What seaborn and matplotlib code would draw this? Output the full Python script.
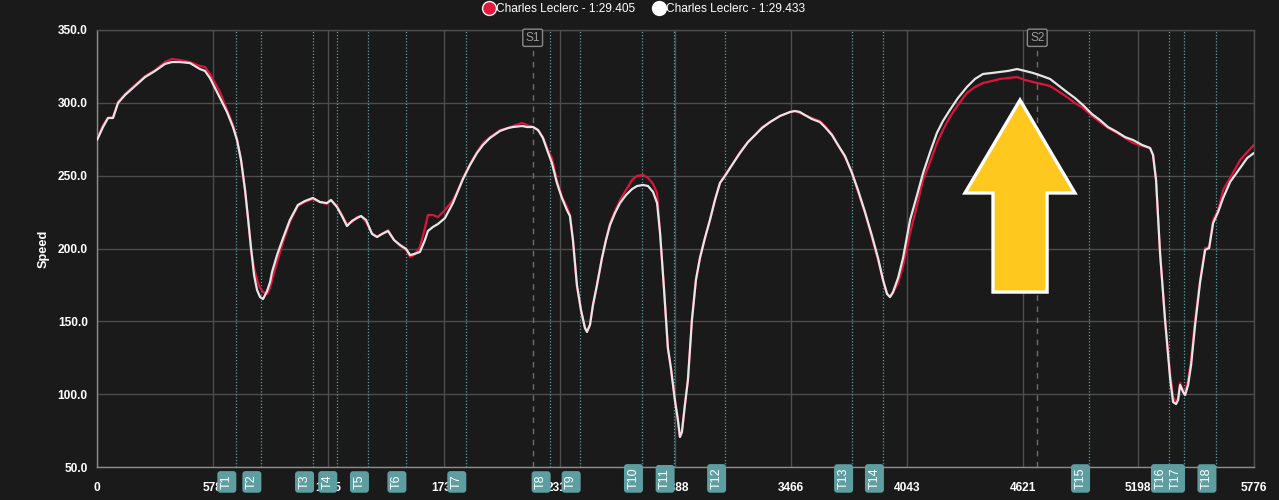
import matplotlib
matplotlib.use("Agg")
import matplotlib.pyplot as plt
import seaborn as sns
import pandas as pd
from matplotlib.lines import Line2D
from matplotlib.patches import Polygon

# ---------------- data ----------------
distance = [0, 30, 55, 80, 105, 140, 190, 240, 290, 339,
            374, 414, 464, 514, 539, 564, 589, 614, 649, 679,
            699, 719, 739, 754, 769, 784, 799, 814, 829, 849,
            864, 874, 899, 929, 963, 1003, 1038, 1078, 1113, 1148,
            1168, 1198, 1223, 1248, 1273, 1298, 1318, 1343, 1373, 1398,
            1423, 1453, 1483, 1513, 1543, 1563, 1583, 1612, 1637, 1652,
            1677, 1702, 1737, 1777, 1802, 1827, 1862, 1897, 1927, 1962,
            2012, 2052, 2077, 2122, 2147, 2177, 2202, 2226, 2251, 2271,
            2296, 2321, 2346, 2361, 2376, 2396, 2416, 2436, 2446, 2461,
            2476, 2496, 2521, 2541, 2561, 2586, 2611, 2641, 2671, 2696,
            2726, 2751, 2776, 2796, 2811, 2831, 2850, 2865, 2885, 2900,
            2910, 2920, 2935, 2950, 2970, 2990, 3010, 3035, 3060, 3085,
            3110, 3135, 3170, 3210, 3250, 3285, 3320, 3360, 3410, 3460,
            3484, 3509, 3534, 3569, 3609, 3634, 3669, 3699, 3734, 3769,
            3799, 3834, 3869, 3899, 3924, 3944, 3959, 3974, 3999, 4024,
            4059, 4094, 4124, 4159, 4193, 4223, 4258, 4298, 4343, 4383,
            4423, 4468, 4508, 4548, 4593, 4633, 4673, 4718, 4758, 4797,
            4842, 4882, 4922, 4967, 5007, 5047, 5092, 5132, 5172, 5217,
            5257, 5272, 5287, 5307, 5332, 5357, 5372, 5387, 5397, 5407,
            5422, 5432, 5447, 5462, 5482, 5507, 5532, 5552, 5572, 5597,
            5622, 5657, 5707, 5742, 5776]

speed_lap_405 = [274.5, 284.8, 289.6, 290.3, 300.6, 306.1, 312.2, 318.4, 322.5, 328.0,
                 330.1, 329.4, 328.0, 325.3, 324.6, 319.8, 313.6, 307.4, 295.1, 284.8,
                 274.5, 260.8, 240.2, 219.6, 199.0, 186.6, 178.4, 172.9, 170.1, 168.8,
                 172.9, 178.4, 190.7, 204.5, 218.2, 229.2, 231.9, 234.0, 231.9, 230.5,
                 233.3, 229.2, 223.0, 216.8, 218.2, 221.6, 222.3, 218.2, 210.6, 207.9,
                 210.0, 212.7, 205.8, 201.7, 199.0, 194.2, 195.5, 201.0, 214.1, 223.0,
                 223.0, 221.6, 226.4, 233.3, 240.2, 248.4, 258.0, 266.2, 272.4, 276.5,
                 281.3, 282.7, 284.1, 286.2, 284.8, 283.4, 281.3, 276.5, 267.6, 262.1,
                 247.0, 235.4, 228.5, 223.0, 205.8, 173.6, 157.8, 145.4, 143.4, 147.5,
                 161.2, 174.9, 193.5, 205.8, 217.5, 225.7, 233.3, 240.2, 247.0, 249.8,
                 250.5, 248.4, 244.3, 238.1, 210.6, 171.5, 131.7, 118.0, 96.0, 82.3,
                 70.6, 74.0, 92.6, 109.7, 150.9, 178.4, 193.5, 207.2, 219.6, 233.3,
                 245.0, 250.5, 257.3, 266.2, 273.1, 277.9, 283.4, 286.8, 291.0, 293.7,
                 294.4, 293.0, 291.6, 289.6, 287.5, 284.1, 278.6, 271.1, 262.8, 252.5,
                 238.8, 224.4, 207.2, 192.1, 178.4, 169.5, 166.7, 169.5, 176.3, 188.0,
                 210.6, 229.9, 247.0, 259.4, 272.4, 281.3, 290.3, 298.5, 306.8, 310.9,
                 313.6, 315.0, 316.4, 317.0, 317.7, 315.7, 314.3, 312.9, 311.6, 308.1,
                 304.0, 299.9, 296.5, 291.0, 286.8, 282.7, 279.3, 275.9, 272.4, 270.4,
                 269.0, 264.2, 247.0, 196.9, 150.9, 114.5, 98.1, 94.6, 97.4, 107.7,
                 102.9, 100.8, 109.7, 123.5, 150.9, 178.4, 200.3, 201.0, 219.6, 226.4,
                 240.2, 248.4, 260.8, 266.2, 271.1]

speed_lap_433 = [274.5, 283.4, 289.6, 289.6, 299.9, 305.4, 311.6, 317.7, 321.9, 326.7,
                 328.0, 328.0, 327.3, 323.2, 321.9, 317.0, 310.2, 303.3, 293.7, 283.4,
                 274.5, 260.8, 240.2, 220.9, 200.3, 181.8, 171.5, 166.7, 165.3, 170.8,
                 177.0, 183.9, 195.5, 207.2, 219.6, 229.9, 232.6, 234.7, 231.9, 231.2,
                 233.3, 228.5, 222.3, 215.4, 218.9, 220.9, 222.3, 219.6, 210.0, 207.9,
                 210.0, 212.0, 205.8, 202.4, 199.7, 195.5, 196.2, 197.6, 205.8, 212.0,
                 214.8, 216.8, 220.9, 231.2, 239.5, 247.7, 257.3, 265.6, 271.1, 275.9,
                 280.7, 282.7, 283.4, 284.1, 283.4, 283.4, 281.3, 275.9, 266.2, 258.7,
                 245.0, 234.7, 226.4, 222.3, 205.8, 174.9, 157.8, 145.4, 142.7, 147.5,
                 161.2, 174.9, 193.5, 205.8, 216.1, 224.4, 231.2, 236.7, 240.8, 242.9,
                 243.6, 242.9, 238.8, 231.2, 210.6, 171.5, 131.7, 118.0, 96.0, 82.3,
                 70.6, 74.0, 92.6, 109.7, 150.9, 178.4, 193.5, 207.2, 219.6, 233.3,
                 245.0, 249.8, 257.3, 265.6, 273.1, 277.9, 282.7, 286.8, 291.0, 293.7,
                 294.4, 293.7, 291.6, 288.9, 286.8, 283.4, 277.9, 271.1, 263.5, 251.8,
                 240.2, 225.1, 208.6, 193.5, 178.4, 168.8, 166.7, 170.1, 179.7, 193.5,
                 219.6, 236.7, 251.8, 266.2, 279.3, 287.5, 295.1, 303.3, 310.9, 316.4,
                 319.8, 320.5, 321.2, 321.9, 323.2, 321.9, 320.5, 318.4, 316.4, 312.2,
                 307.4, 303.3, 298.5, 292.3, 288.2, 283.4, 280.0, 276.5, 274.5, 271.1,
                 269.0, 264.2, 247.0, 196.9, 150.9, 111.1, 94.6, 93.2, 96.0, 106.3,
                 101.5, 99.4, 106.3, 120.0, 147.5, 177.0, 199.0, 200.3, 217.5, 225.1,
                 234.7, 245.7, 255.3, 262.1, 265.6]

lap_labels = ["Charles Leclerc - 1:29.405", "Charles Leclerc - 1:29.433"]
line_colors = ["#dc143c", "#e6e6e6"]

x_ticks = [0, 578, 1155, 1733, 2311, 2888, 3466, 4043, 4621, 5198, 5776]
y_ticks = [50, 100, 150, 200, 250, 300, 350]

turn_names = ["T1", "T2", "T3", "T4", "T5", "T6", "T7", "T8", "T9", "T10",
              "T11", "T12", "T13", "T14", "T15", "T16", "T17", "T18"]
turn_dist = [692, 817, 1080, 1196, 1354, 1541, 1840, 2261, 2411, 2722,
             2880, 3137, 3771, 3925, 4954, 5353, 5428, 5585]

sector_names = ["S1", "S2"]
sector_dist = [2175, 4694]

# highlight arrow (annotation) in data units
arrow_tip = (4608, 301.9)
arrow_head_base = 238.1
arrow_head_half = (4333, 4882)
arrow_body = (4473, 4743)
arrow_bottom = 170.1

# ---------------- style ----------------
BG = "#1a1a1a"
GRID = "#4d4d4d"
TEAL = "#5f9ea0"

sns.set_theme(style="dark")
plt.rcParams['font.family'] = ['Liberation Sans', 'DejaVu Sans']

df = pd.DataFrame({
    "Distance": distance * 2,
    "Speed": speed_lap_405 + speed_lap_433,
    "Lap": [lap_labels[0]] * len(distance) + [lap_labels[1]] * len(distance),
})

fig = plt.figure(figsize=(12.79, 5.0), dpi=100, facecolor=BG)
ax = fig.add_axes([0.07584, 0.066, 0.90461, 0.874])
ax.set_facecolor(BG)

sns.lineplot(data=df, x="Distance", y="Speed", hue="Lap", hue_order=lap_labels,
             palette=line_colors, estimator=None, sort=False, linewidth=1.6,
             legend=False, ax=ax, zorder=5)

ax.set_xlim(0, 5776)
ax.set_ylim(50, 350)
ax.set_xticks(x_ticks)
ax.set_xticklabels([str(t) for t in x_ticks])
ax.set_yticks(y_ticks)
ax.set_yticklabels([f"{t:.1f}" for t in y_ticks])
ax.grid(True, color=GRID, linewidth=1.0)
ax.set_axisbelow(True)

for side in ["top", "right"]:
    ax.spines[side].set_color(GRID)
    ax.spines[side].set_linewidth(1.0)
for side in ["left", "bottom"]:
    ax.spines[side].set_color("#8c8c8c")
    ax.spines[side].set_linewidth(1.0)

ax.tick_params(axis="x", length=4.5, width=1, color=GRID, labelcolor="#ffffff",
               labelsize=8.6, pad=6)
ax.tick_params(axis="y", length=3.6, width=1, color=GRID, labelcolor="#ffffff",
               labelsize=8.6, pad=3)
for lab in ax.get_xticklabels() + ax.get_yticklabels():
    lab.set_fontweight("bold")

ax.set_xlabel("")
ax.set_ylabel("Speed", color="#ffffff", fontsize=9.2, fontweight="bold", labelpad=6)

# turn markers
xt = ax.get_xaxis_transform()
for name, d in zip(turn_names, turn_dist):
    ax.axvline(d, color=TEAL, linestyle=(0, (1, 1.5)), linewidth=0.9, zorder=2)
    ax.annotate(name, xy=(d, 0), xycoords=xt, xytext=(-2.0, -16.0),
                textcoords="offset points", rotation=90, ha="right", va="bottom",
                color="#ffffff", fontsize=9.0, annotation_clip=False, zorder=20,
                bbox=dict(boxstyle="round,pad=0.28,rounding_size=0.25", fc=TEAL,
                          ec="none"))

# sector markers
for name, d in zip(sector_names, sector_dist):
    ax.axvline(d, color="#6e6e6e", linestyle=(0, (4, 4)), linewidth=1.0, zorder=2)
    ax.annotate(name, xy=(d, 1), xycoords=xt, xytext=(0, -5.6),
                textcoords="offset points", ha="center", va="center",
                color="#9a9a9a", fontsize=8.6, annotation_clip=False, zorder=20,
                bbox=dict(boxstyle="round,pad=0.22,rounding_size=0.15", fc=BG,
                          ec="#8a8a8a", lw=1.0))

# yellow arrow annotation
arrow_pts = [arrow_tip,
             (arrow_head_half[1], arrow_head_base),
             (arrow_body[1], arrow_head_base),
             (arrow_body[1], arrow_bottom),
             (arrow_body[0], arrow_bottom),
             (arrow_body[0], arrow_head_base),
             (arrow_head_half[0], arrow_head_base)]
ax.add_patch(Polygon(arrow_pts, closed=True, fc="#ffc81e", ec="#ffffff",
                     lw=2.4, joinstyle="miter", zorder=30))

# legend
handles = [Line2D([0], [0], marker="o", linestyle="none", markersize=10,
                  markerfacecolor=c, markeredgecolor="#f2f2f2" if i == 0 else "#ffffff",
                  markeredgewidth=1.0)
           for i, c in enumerate(["#e8173a", "#ffffff"])]
fig.legend(handles, lap_labels, loc="upper center", bbox_to_anchor=(0.503, 1.015),
           ncol=2, frameon=False, fontsize=8.6, handletextpad=0.0,
           columnspacing=1.4, labelcolor="#ffffff", handlelength=1.2)

fig.savefig("out.png", dpi=100, facecolor=BG)
